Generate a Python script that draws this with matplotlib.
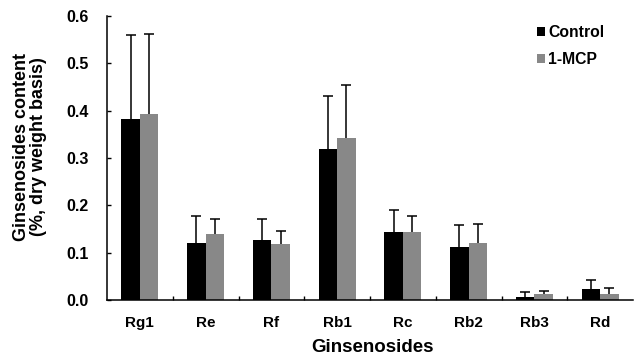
import numpy as np
import matplotlib
matplotlib.use("Agg")
import matplotlib.pyplot as plt

plt.rcParams['font.family'] = ['Liberation Sans', 'DejaVu Sans']
plt.rcParams['font.weight'] = 'bold'

categories = ["Rg1", "Re", "Rf", "Rb1", "Rc", "Rb2", "Rb3", "Rd"]
control = [0.382, 0.120, 0.126, 0.318, 0.144, 0.111, 0.006, 0.024]
control_err = [0.178, 0.058, 0.045, 0.112, 0.047, 0.047, 0.010, 0.018]
mcp = [0.394, 0.139, 0.118, 0.342, 0.144, 0.120, 0.013, 0.013]
mcp_err = [0.169, 0.033, 0.028, 0.112, 0.034, 0.040, 0.005, 0.012]
yticks = [0.0, 0.1, 0.2, 0.3, 0.4, 0.5, 0.6]
ytick_labels = ["0.0", "0.1", "0.2", "0.3", "0.4", "0.5", "0.6"]

W, H = 634, 357
fig = plt.figure(figsize=(W / 100, H / 100), dpi=100)
ax = fig.add_axes([107 / W, 1 - 300 / H, 526 / W, 284 / H])

x = np.arange(len(categories))
w = 0.28
err_kw = dict(ecolor="black", elinewidth=1.1, capsize=3.6, capthick=1.1)
bars_c = ax.bar(x - w / 2, control, w, color="black", label="Control",
                yerr=[np.zeros(len(control)), control_err], error_kw=err_kw)
bars_m = ax.bar(x + w / 2, mcp, w, color="#888888", label="1-MCP",
                yerr=[np.zeros(len(mcp)), mcp_err], error_kw=err_kw)
# one-sided error bars: hide the cap sitting on top of each bar
for bc in (bars_c, bars_m):
    caplines = bc.errorbar.lines[1]
    caplines[0].set_visible(False)

ax.set_xlim(-0.5, len(categories) - 0.5)
ax.set_ylim(0, 0.6)
ax.set_yticks(yticks)
ax.set_yticklabels(ytick_labels, fontsize=11.5, fontweight="bold")
ax.set_xticks(x)
ax.set_xticklabels(categories, fontsize=11, fontweight="bold")
ax.tick_params(axis="x", length=0, pad=11.5)
ax.set_xticks(np.arange(0.5, len(categories) - 0.5, 1), minor=True)
ax.tick_params(axis="x", which="minor", direction="in", length=3, width=1)
ax.tick_params(axis="y", direction="in", length=3, width=1, pad=13)

for s in ["top", "right"]:
    ax.spines[s].set_visible(False)
for s in ["left", "bottom"]:
    ax.spines[s].set_linewidth(1.1)

fig.text(372 / W, 1 - 352 / H, "Ginsenosides", fontsize=13.5,
         fontweight="bold", ha="center", va="baseline")
fig.text(30 / W, 1 - 147 / H, "Ginsenosides content\n(%, dry weight basis)",
         fontsize=13, fontweight="bold", rotation=90, ha="center",
         va="center", multialignment="center", linespacing=1.05)

ax.legend(loc="upper left", bbox_to_anchor=(537 / W, 1 - 25 / H),
          bbox_transform=fig.transFigure, frameon=False,
          borderaxespad=0, borderpad=0,
          handlelength=0.48, handleheight=0.48, handletextpad=0.25,
          labelspacing=0.75, prop={"weight": "bold", "size": 11.3})

fig.savefig("out.png", dpi=100)
